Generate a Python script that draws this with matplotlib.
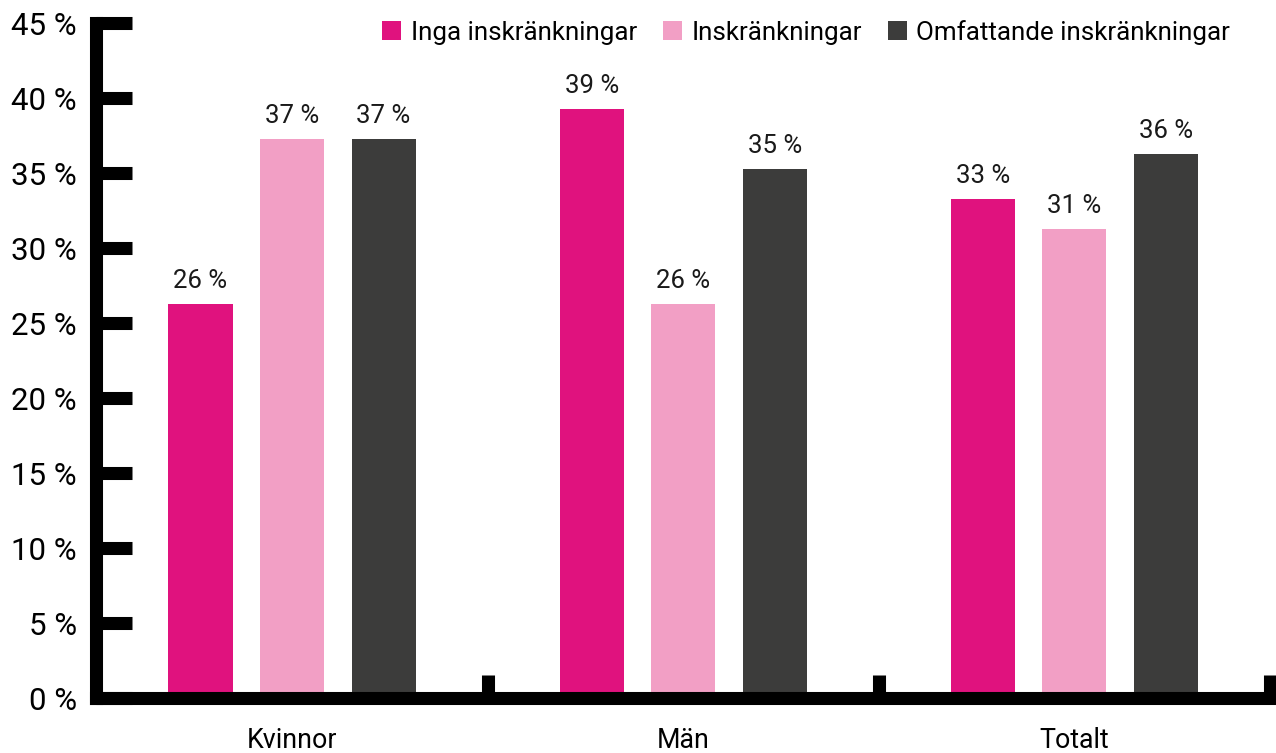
import numpy as np
import matplotlib.pyplot as plt
from matplotlib.patches import Patch

plt.rcParams["font.family"] = ["Roboto", "DejaVu Sans"]

# data
groups = ["Kvinnor", "Män", "Totalt"]
series = ["Inga inskränkningar", "Inskränkningar", "Omfattande inskränkningar"]
inga = [26.3, 39.3, 33.3]
inskr = [37.3, 26.3, 31.3]
omfatt = [37.3, 35.3, 36.3]
colors = ["#E0127E", "#F29FC5", "#3C3C3B"]

values = [inga, inskr, omfatt]

fig = plt.figure(figsize=(12.76, 7.53), dpi=100)
ax = fig.add_axes([0.0756, 0.073, 0.9244, 0.8958])

x = np.arange(len(groups))
width = 0.164
step = 0.234
for i, (vals, col) in enumerate(zip(values, colors)):
    pos = x + (i - 1) * step
    bars = ax.bar(pos, vals, width=width, color=col, zorder=1)
    for b, v in zip(bars, vals):
        ax.annotate(f"{v:.0f} %", xy=(b.get_x() + b.get_width() / 2, v),
                    xytext=(0, 8), textcoords="offset points",
                    ha="center", va="bottom", fontsize=18.5, color="#1a1a1a")

ax.set_ylim(0, 45)
ax.set_xlim(-0.5, 2.5 + 6 / 391.2)
ax.set_yticks(np.arange(0, 46, 5))
ax.set_yticklabels([f"{t} %" for t in range(0, 46, 5)], fontsize=22.5)

# category labels in the middle, ticks on the boundaries
ax.set_xticks([0.5, 1.5, 2.5])
ax.set_xticklabels([])
ax.set_xticks(x, minor=True)
ax.set_xticklabels(groups, minor=True, fontsize=19.3)
ax.tick_params(axis="x", which="minor", length=0, pad=21)
ax.tick_params(axis="x", which="major", direction="in", length=16.5, width=9.4, color="black")
ax.tick_params(axis="y", direction="in", length=26, width=9.4, color="black", pad=14)

for s in ["top", "right"]:
    ax.spines[s].set_visible(False)
for s in ["left", "bottom"]:
    ax.spines[s].set_linewidth(9.4)
    ax.spines[s].set_zorder(3)
    ax.spines[s].set_capstyle("projecting")

handles = [Patch(facecolor=c, label=l) for c, l in zip(colors, series)]
ax.legend(handles=handles, loc="upper right", bbox_to_anchor=(0.97, 1.021), ncol=3,
          frameon=False, fontsize=18.7, handlelength=0.75, handleheight=0.75,
          handletextpad=0.35, columnspacing=1.0, borderaxespad=0)

fig.savefig("out.png", dpi=100)
